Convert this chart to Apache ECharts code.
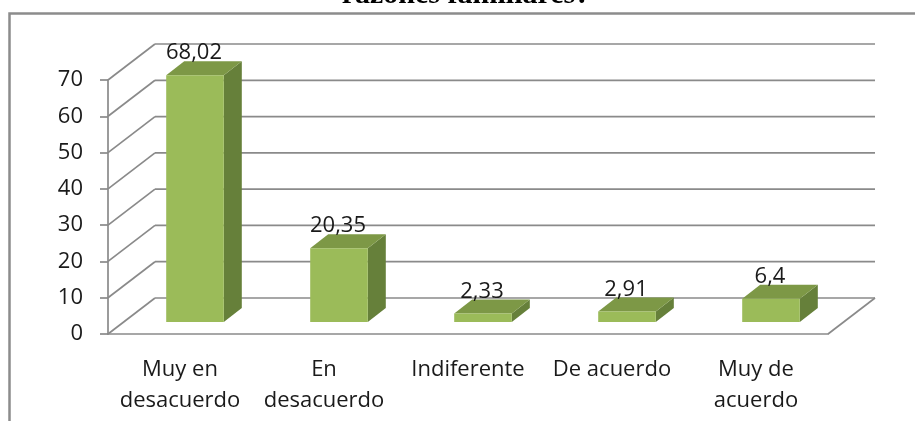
<!DOCTYPE html>
<html>
<head>
<meta charset="utf-8">
<script src="https://cdn.jsdelivr.net/npm/echarts@6/dist/echarts.min.js"></script>
<style>
html, body { margin: 0; padding: 0; background: #fff; }
#chart { width: 915px; height: 421px; }
</style>
</head>
<body>
<div id="chart"></div>
<script>
var categories = ['Muy en\ndesacuerdo', 'En\ndesacuerdo', 'Indiferente', 'De acuerdo', 'Muy de\nacuerdo'];
var values = [68.02, 20.35, 2.33, 2.91, 6.4];
var yTicks = [0, 10, 20, 30, 40, 50, 60, 70];

var gridColor = '#8a8a8a';
var font = '"Open Sans", "Noto Sans", sans-serif';
// depth of the 3D box (back wall offset) and of the bars
var wallDx = 47, wallDy = -36;
var barShiftX = 15, barShiftY = -12;
var barDx = 18, barDy = -14;

function fmt(v) {
	return String(v).replace('.', ',');
}

/* walls: left wall diagonals, back gridlines, floor edge */
function renderWalls(params, api) {
	var cs = params.coordSys;
	var v = api.value(1);
	var y = api.coord([0, v])[1];
	var lineStyle = { stroke: gridColor, lineWidth: 1.7 };
	var children = [
		{ type: 'line', shape: { x1: cs.x, y1: y, x2: cs.x + wallDx, y2: y + wallDy }, style: lineStyle },
		{ type: 'line', shape: { x1: cs.x + wallDx, y1: y + wallDy, x2: cs.x + cs.width + wallDx, y2: y + wallDy }, style: lineStyle }
	];
	if (v === 0) {
		children.push({ type: 'line', shape: { x1: cs.x + cs.width, y1: y, x2: cs.x + cs.width + wallDx, y2: y + wallDy }, style: lineStyle });
	}
	return { type: 'group', children: children };
}

/* 3D bar: front, top and side faces */
function renderBar(params, api) {
	var i = api.value(0), v = api.value(1);
	var band = api.size([1, 0])[0];
	var p0 = api.coord([i, 0]);
	var p1 = api.coord([i, v]);
	var w = band * 0.4;
	var x0 = p0[0] - w / 2 + barShiftX, x1 = x0 + w;
	var by = p0[1] + barShiftY, ty = p1[1] + barShiftY;
	return {
		type: 'group',
		children: [
			{ type: 'polygon', shape: { points: [[x1, by], [x1, ty], [x1 + barDx, ty + barDy], [x1 + barDx, by + barDy]] }, style: { fill: '#66803A' } },
			{ type: 'polygon', shape: { points: [[x0, ty], [x1, ty], [x1 + barDx, ty + barDy], [x0 + barDx, ty + barDy]] }, style: { fill: '#7D9846' } },
			{ type: 'rect', shape: { x: x0, y: ty, width: w, height: by - ty }, style: { fill: '#9BBB59' } },
			{ type: 'text', x: (x0 + x1) / 2 - 1, y: ty + barDy + 3, style: { text: fmt(v), align: 'center', verticalAlign: 'bottom', font: '22px ' + font, fill: '#1a1a1a' } }
		]
	};
}

var myChart = echarts.init(document.getElementById('chart'));
var option = {
	animation: false,
	graphic: [
		{ type: 'rect', shape: { x: 9.5, y: 13.5, width: 1000, height: 500 }, style: { fill: 'none', stroke: '#8c8c8c', lineWidth: 2.5 } },
		{ type: 'text', x: 466, y: -5, style: { text: 'razones familiares?', align: 'center', verticalAlign: 'middle', font: 'bold 30px "Liberation Serif", "Times New Roman", serif', fill: '#000' } }
	],
	grid: { left: 108, right: 87, top: 80, bottom: 87 },
	xAxis: {
		type: 'category',
		data: categories,
		axisLine: { lineStyle: { color: gridColor, width: 1.7 } },
		axisTick: { length: 8, lineStyle: { color: gridColor, width: 1.7 } },
		axisLabel: { fontSize: 22, lineHeight: 31, color: '#1a1a1a', fontFamily: font, margin: 20, interval: 0 }
	},
	yAxis: {
		type: 'value',
		min: 0,
		max: 70,
		interval: 10,
		splitLine: { show: false },
		axisLine: { show: true, lineStyle: { color: gridColor, width: 1.7 } },
		axisTick: { show: true, length: 8, lineStyle: { color: gridColor, width: 1.7 } },
		axisLabel: { fontSize: 22, color: '#1a1a1a', fontFamily: font, margin: 25 }
	},
	series: [
		{
			type: 'custom',
			renderItem: renderWalls,
			data: yTicks.map(function(t) { return [0, t]; }),
			clip: false,
			silent: true,
			z: 1
		},
		{
			type: 'custom',
			renderItem: renderBar,
			data: values.map(function(v, i) { return [i, v]; }),
			clip: false,
			z: 3
		}
	]
};
myChart.setOption(option);
</script>
</body>
</html>
